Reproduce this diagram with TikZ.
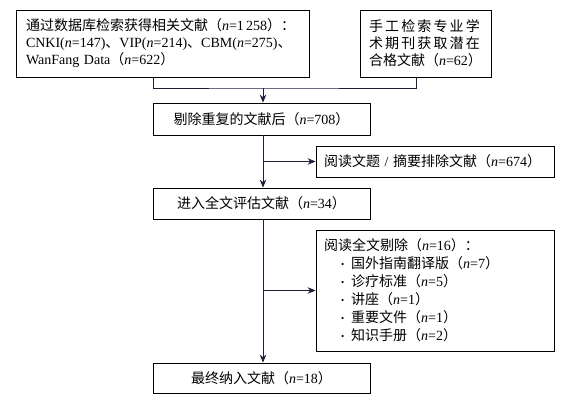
\documentclass[tikz,border=0pt]{standalone}
\usepackage{fontspec}
\setmainfont{Liberation Serif}
\newfontfamily\cjk{Noto Sans CJK SC}
\usetikzlibrary{arrows.meta}
\newcommand\zh[1]{{\cjk #1}}
\newcommand\nn{\textit{n}}
\newcommand\itm{\hspace*{17pt}\raisebox{1.5pt}{\fontsize{9}{9}\selectfont\textbullet}\hspace{7pt}}
\definecolor{linec}{HTML}{1F1F3A}
\begin{document}
\begin{tikzpicture}[x=1pt,y=-1pt,
  box/.style={draw=black, line width=0.8pt, inner sep=0pt, font=\fontsize{14}{17}\selectfont},
  conn/.style={draw=linec, line width=0.8pt},
  arr/.style={conn, -{Stealth[length=8pt,width=6.5pt]}}]
\useasboundingbox (0,0) rectangle (578,401);
\fill[white] (0,0) rectangle (578,401);
% boxes
\node[box, minimum width=293pt, minimum height=67pt, text width=273pt, align=left] (b1) at (162.5,43.5)
  {\zh{通过数据库检索获得相关文献（}\nn=1\,258\zh{）：}\\
   CNKI(\nn=147)\zh{、}VIP(\nn=214)\zh{、}CBM(\nn=275)\zh{、}\\
   WanFang Data\zh{（}\nn=622\zh{）}};
\node[box, minimum width=131pt, minimum height=67pt, text width=113pt, align=left] (b2) at (425.5,43.5)
  {\makebox[113pt][l]{\cjk 手\hfil 工\hfil 检\hfil 索\hfil 专\hfil 业\hfil 学}\\
   \makebox[113pt][l]{\cjk 术\hfil 期\hfil 刊\hfil 获\hfil 取\hfil 潜\hfil 在}\\
   \makebox[113pt][l]{\zh{合格文献（}\nn=62\zh{）}}};
\node[box, minimum width=217pt, minimum height=32pt] (b3) at (261.5,119)
  {\zh{剔除重复的文献后（}\nn=708\zh{）}};
\node[box, minimum width=238pt, minimum height=31pt, text width=222pt, align=left] (ba) at (435,161.5)
  {\zh{阅读文题}~/~\zh{摘要排除文献（}\nn=674\zh{）}};
\node[box, minimum width=217pt, minimum height=31pt] (b4) at (261.5,203.5)
  {\zh{进入全文评估文献（}\nn=34\zh{）}};
\node[box, minimum width=238pt, minimum height=121pt, text width=222pt, align=left,
  font=\fontsize{14}{18}\selectfont] (bb) at (435,290.5)
  {\zh{阅读全文剔除（}\nn=16\zh{）：}\\
   \itm\zh{国外指南翻译版（}\nn=7\zh{）}\\
   \itm\zh{诊疗标准（}\nn=5\zh{）}\\
   \itm\zh{讲座（}\nn=1\zh{）}\\
   \itm\zh{重要文件（}\nn=1\zh{）}\\
   \itm\zh{知识手册（}\nn=2\zh{）}};
\node[box, minimum width=217pt, minimum height=30pt] (b5) at (261.5,378)
  {\zh{最终纳入文献（}\nn=18\zh{）}};
% connectors
\coordinate (j1) at (263,88);
\coordinate (j2) at (263,161.5);
\coordinate (j3) at (263,290.5);
\draw[conn] (b1.south -| 153,0) |- (j1) -| (b2.south -| 416,0);
\draw[arr] (j1) -- (j1 |- b3.north);
\draw[arr] (b3.south -| j1) -- (j1 |- b4.north);
\draw[arr] (j2) -- (ba.west);
\draw[arr] (b4.south -| j1) -- (j1 |- b5.north);
\draw[arr] (j3) -- (bb.west);
\end{tikzpicture}
\end{document}
